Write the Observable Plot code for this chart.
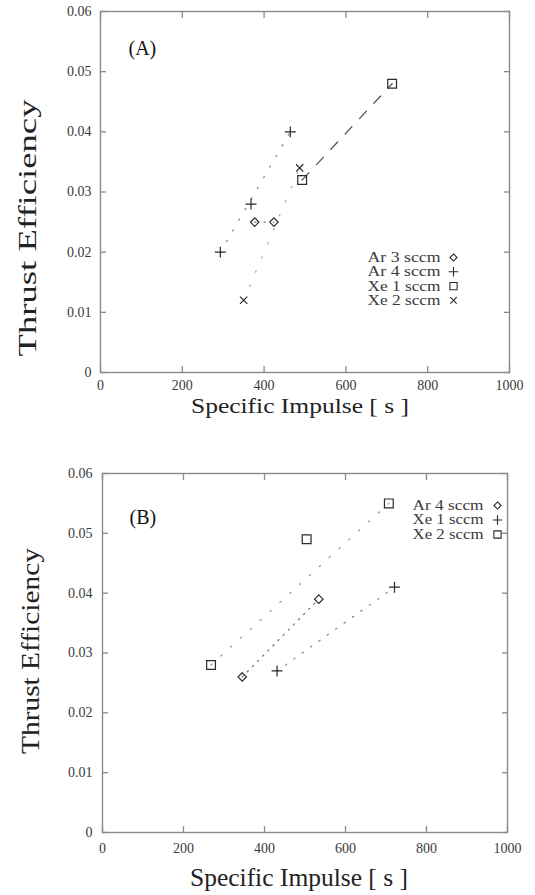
<!DOCTYPE html>
<html><head><meta charset="utf-8">
<script src="https://cdn.jsdelivr.net/npm/d3@7"></script>
<script src="https://cdn.jsdelivr.net/npm/@observablehq/plot@0.6"></script>
<style>
body{margin:0;background:#fff;}
#chart{width:535px;}
svg{display:block;}
#chart svg, #chart svg text{font-family:"Liberation Serif","Times New Roman",serif !important;}
</style></head><body><div id="chart"></div>
<script>
// ---- shared axes ----
const xTicks = [0, 200, 400, 600, 800, 1000];
const xTickLabels = ["0", "200", "400", "600", "800", "1000"];
const yTicks = [0, 0.01, 0.02, 0.03, 0.04, 0.05, 0.06];
const yTickLabels = ["0", "0.01", "0.02", "0.03", "0.04", "0.05", "0.06"];
const xLabel = "Specific Impulse [ s ]";
const yLabel = "Thrust Efficiency";

// ---- panel A ----
const panelALabel = "(A)";
const seriesA = ["Ar 3 sccm", "Ar 4 sccm", "Xe 1 sccm", "Xe 2 sccm"];
const ispA_ar3 = [377, 424];
const effA_ar3 = [0.025, 0.025];
const ispA_ar4 = [293, 368, 464];
const effA_ar4 = [0.020, 0.028, 0.040];
const ispA_xe1 = [493, 713];
const effA_xe1 = [0.032, 0.048];
const ispA_xe2 = [350, 487];
const effA_xe2 = [0.012, 0.034];

// ---- panel B ----
const panelBLabel = "(B)";
const seriesB = ["Ar 4 sccm", "Xe 1 sccm", "Xe 2 sccm"];
const ispB_ar4 = [345, 534];
const effB_ar4 = [0.026, 0.039];
const ispB_xe1 = [431, 721];
const effB_xe1 = [0.027, 0.041];
const ispB_xe2 = [268, 504, 707];
const effB_xe2 = [0.028, 0.049, 0.055];

const rows = (isp, eff) => isp.map((x, i) => ({isp: x, eff: eff[i]}));
const ends = (r) => [r[0], r[r.length - 1]];

const FONT = "Liberation Serif";
const AX = "#8a8a8a";
const INK = "#2a2a2a";
const TXT = "#3a3a3a";

function panel(cfg) {
  const marks = [];
  const lbl = (d) => xTickLabels[xTicks.indexOf(d)];
  const lblY = (d) => yTickLabels[yTicks.indexOf(d)];
  marks.push(Plot.frame({stroke: AX, strokeWidth: 1.4}));
  marks.push(Plot.axisX(xTicks, {anchor: "bottom", tickSize: -6, tickPadding: cfg.padX, fontSize: cfg.tickFont, fontFamily: FONT, fill: TXT, stroke: AX, strokeWidth: 1.3, label: null, tickFormat: lbl}));
  marks.push(Plot.axisX(xTicks, {anchor: "top", tickSize: -6, stroke: AX, strokeWidth: 1.3, label: null, tickFormat: () => ""}));
  marks.push(Plot.axisY(yTicks, {anchor: "left", tickSize: -6, tickPadding: cfg.padY, fontSize: cfg.tickFont, fontFamily: FONT, fill: TXT, stroke: AX, strokeWidth: 1.3, label: null, tickFormat: lblY}));
  marks.push(Plot.axisY(yTicks, {anchor: "right", tickSize: -6, stroke: AX, strokeWidth: 1.3, label: null, tickFormat: () => ""}));
  cfg.data.forEach((r, i) => {
    marks.push(Plot.line(ends(r), {x: "isp", y: "eff", stroke: cfg.lineColors[i], strokeWidth: cfg.lineWidths[i], strokeDasharray: cfg.dashes[i], strokeLinecap: "round"}));
  });
  cfg.data.forEach((r, i) => {
    marks.push(Plot.dot(r, {x: "isp", y: "eff", symbol: cfg.syms[i], r: cfg.sizes[i], stroke: INK, strokeWidth: 1.2, fill: "none"}));
  });
  // legend
  cfg.series.forEach((s, i) => {
    marks.push(Plot.text([s], {text: d => d, frameAnchor: "top-right", dx: cfg.legTextDx, dy: cfg.legDy0 + i * cfg.legStep, textAnchor: "end", lineAnchor: "middle", fontSize: cfg.legFont, fontFamily: FONT, fill: TXT}));
    marks.push(Plot.dot([s], {frameAnchor: "top-right", dx: cfg.legSymDx, dy: cfg.legDy0 + i * cfg.legStep, symbol: cfg.syms[i], r: cfg.legSizes[i], stroke: INK, strokeWidth: 1.1, fill: "none"}));
  });
  // panel label
  marks.push(Plot.text([cfg.label], {text: d => d, frameAnchor: "top-left", dx: cfg.labDx, dy: cfg.labDy, textAnchor: "start", lineAnchor: "middle", fontSize: 20, fontFamily: FONT, fill: "#111"}));
  // axis titles
  marks.push(Plot.text([xLabel], {text: d => d, frameAnchor: "bottom", dx: cfg.xlabDx, dy: cfg.xlabDy, textAnchor: "middle", lineAnchor: "middle", fontSize: cfg.xlabFont, fontFamily: FONT, fill: "#222"}));
  marks.push(Plot.text([yLabel], {text: d => d, frameAnchor: "left", dx: cfg.ylabDx, dy: cfg.ylabDy, rotate: -90, textAnchor: "middle", lineAnchor: "middle", fontSize: cfg.ylabFont, fontFamily: FONT, fill: "#222"}));

  const svg = Plot.plot({
    width: 535, height: cfg.height,
    marginTop: cfg.mt, marginRight: cfg.mr, marginBottom: cfg.mb, marginLeft: cfg.ml,
    style: {fontFamily: FONT, background: "#fff"},
    x: {domain: [0, 1000]},
    y: {domain: [0, 0.06]},
    marks
  });
  svg.querySelectorAll("text").forEach(t => {
    const c = t.textContent;
    if (c === yLabel) { t.setAttribute("textLength", cfg.ylabLen); t.setAttribute("lengthAdjust", "spacingAndGlyphs"); }
    if (c === xLabel) { t.setAttribute("textLength", 218); t.setAttribute("lengthAdjust", "spacingAndGlyphs"); }
    if (cfg.series.includes(c)) { t.setAttribute("textLength", cfg.legLen); t.setAttribute("lengthAdjust", "spacingAndGlyphs"); }
  });
  return svg;
}

const chart = document.getElementById("chart");
chart.appendChild(panel({
  height: 450, mt: 11, mr: 26, mb: 78, ml: 100,
  label: panelALabel, labDx: 28, labDy: 37,
  series: seriesA,
  data: [rows(ispA_ar3, effA_ar3), rows(ispA_ar4, effA_ar4), rows(ispA_xe1, effA_xe1), rows(ispA_xe2, effA_xe2)],
  syms: ["diamond2", "plus", "square2", "times"],
  sizes: [3.8, 3.6, 5.6, 3.4],
  legSizes: [3.2, 3.2, 4.6, 3.0],
  dashes: ["1.3,8", "1.3,11", "10,11", "1.3,14"],
  lineColors: ["#777", "#888", "#555", "#aaa"],
  lineWidths: [1.3, 1.3, 1.3, 1.3],
  legTextDx: -69, legSymDx: -56, legDy0: 246, legStep: 14.3, legFont: 14, legLen: 73,
  padX: 14, padY: 15, tickFont: 14,
  xlabDx: -5, xlabDy: 34, xlabFont: 21,
  ylabDx: -73, ylabDy: 36, ylabFont: 26, ylabLen: 257
}));
chart.appendChild(panel({
  height: 445, mt: 23, mr: 28, mb: 63, ml: 102,
  label: panelBLabel, labDx: 27, labDy: 44,
  series: seriesB,
  data: [rows(ispB_ar4, effB_ar4), rows(ispB_xe1, effB_xe1), rows(ispB_xe2, effB_xe2)],
  syms: ["diamond2", "plus", "square2"],
  sizes: [3.8, 3.6, 5.6],
  legSizes: [3.2, 3.2, 4.6],
  dashes: ["1.3,6", "1.3,9", "1.3,12"],
  lineColors: ["#777", "#888", "#999"],
  lineWidths: [1.3, 1.3, 1.3],
  legTextDx: -24, legSymDx: -10, legDy0: 32, legStep: 14.5, legFont: 14, legLen: 71,
  padX: 17, padY: 16, tickFont: 14,
  xlabDx: -6, xlabDy: 45, xlabFont: 25,
  ylabDx: -72, ylabDy: -2, ylabFont: 25, ylabLen: 206
}));
</script></body></html>
